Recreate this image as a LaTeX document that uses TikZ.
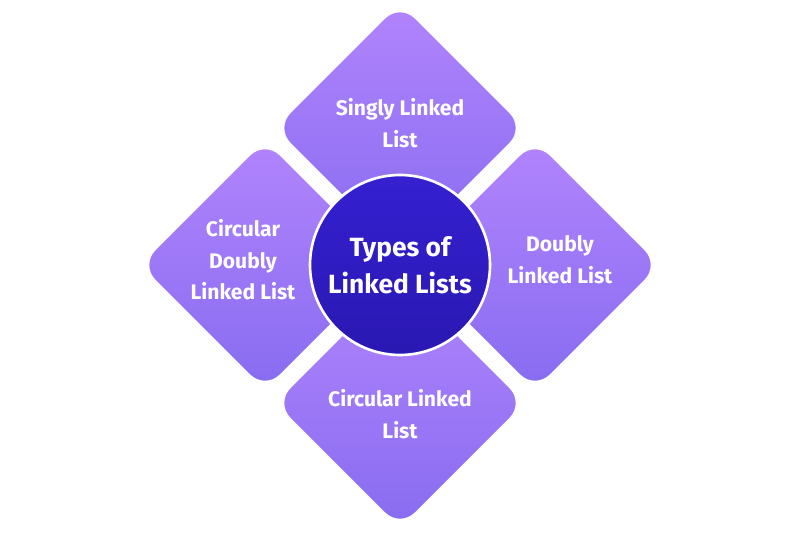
\documentclass[tikz,border=0pt]{standalone}
\usepackage{fontspec}
\setmainfont{Fira Sans}
\usetikzlibrary{shapes.geometric}
\definecolor{tiletop}{RGB}{178,132,253}
\definecolor{tilebot}{RGB}{135,108,240}
\definecolor{hubtop}{RGB}{52,32,208}
\definecolor{hubbot}{RGB}{42,24,178}

\begin{document}
\begin{tikzpicture}[
    tile/.style={diamond, minimum width=5.1cm, minimum height=5.1cm, inner sep=0pt,
      rounded corners=0.45cm, draw=white, line width=2pt,
      top color=tiletop, bottom color=tilebot},
    hub/.style={circle, minimum size=3.6cm, inner sep=0pt, draw=white, line width=1.5pt,
      top color=hubtop, bottom color=hubbot},
    lbl/.style={text=white, align=center, font=\bfseries\fontsize{12}{18}\selectfont}
  ]
  \useasboundingbox (0,0) rectangle (16,10.66);
  % four tiles around the hub
  \node[tile] (single) at (8,8.1) {};
  \node[tile] (cdouble) at (5.3,5.36) {};
  \node[tile] (double) at (10.7,5.36) {};
  \node[tile] (circ) at (8,2.6) {};
  \node[hub] (hub) at (8,5.36) {};
  % texts
  \node[lbl] (singlet) at ([yshift=0.1cm]single) {Singly Linked\\List};
  \node[lbl] (cdoublet) at ([xshift=-0.44cm,yshift=0.1cm]cdouble) {Circular\\Doubly\\Linked List};
  \node[lbl] (doublet) at ([xshift=0.5cm,yshift=0.1cm]double) {Doubly\\Linked List};
  \node[lbl] (circt) at ([yshift=-0.22cm]circ) {Circular Linked\\List};
  \node[lbl, font=\bfseries\fontsize{15}{21}\selectfont] (hubt) at (hub) {Types of\\Linked Lists};
\end{tikzpicture}
\end{document}
